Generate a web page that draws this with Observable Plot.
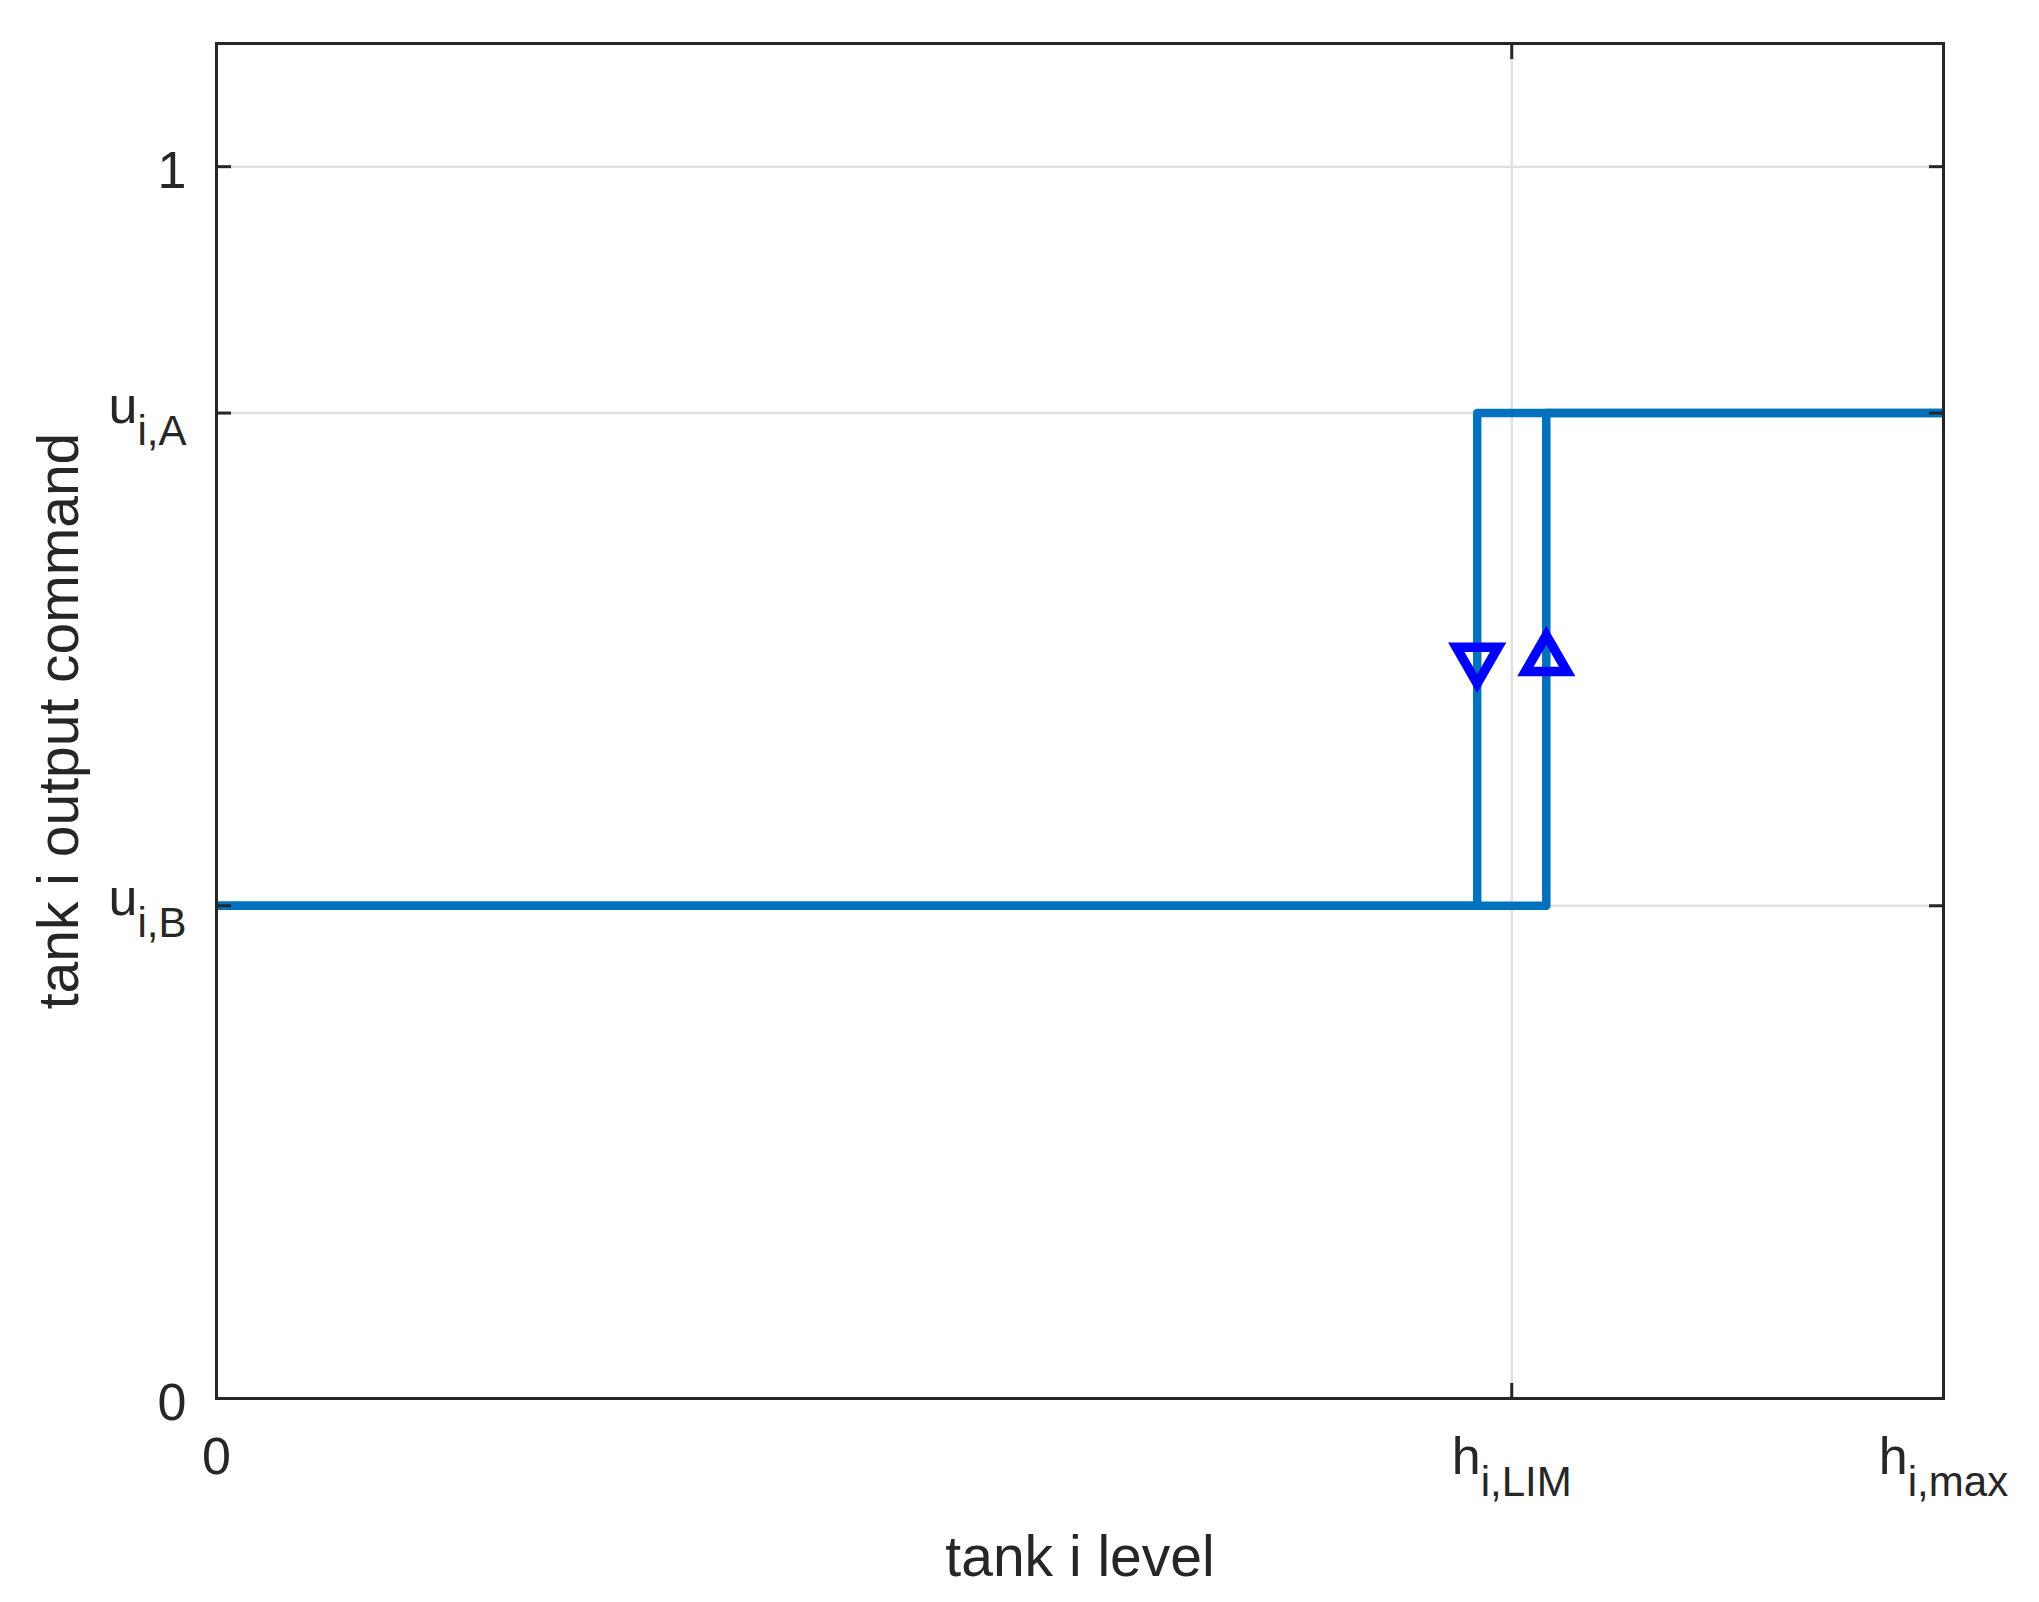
<!DOCTYPE html>
<html><head><meta charset="utf-8">
<script src="https://cdn.jsdelivr.net/npm/d3@7"></script>
<script src="https://cdn.jsdelivr.net/npm/@observablehq/plot@0.6"></script>
<style>html,body{margin:0;padding:0;background:#fff;}</style>
</head><body><div id="chart"></div>
<script>
// ---- data ----
const xTicks = [0, 0.75, 1];
const xTickLabels = ["0", "h_{i,LIM}", "h_{i,max}"];
const yTicks = [0, 0.4, 0.8, 1];
const yTickLabels = ["0", "u_{i,B}", "u_{i,A}", "1"];
const xDomain = [0, 1];
const yDomain = [0, 1.1];
// rising branch (level increasing) and falling branch of the hysteresis loop
const riseX = [0, 0.77, 0.77, 1];
const riseY = [0.4, 0.4, 0.8, 0.8];
const fallX = [1, 0.73, 0.73, 0];
const fallY = [0.8, 0.8, 0.4, 0.4];
// direction markers
const markerX = [0.73, 0.77];
const markerY = [0.6, 0.6];
const markerDir = ["down", "up"];
const xLabel = "tank i level";
const yLabel = "tank i output command";

// ---- tables for the library ----
const lineData = [
  ...riseX.map((x, i) => ({x, y: riseY[i], branch: "rise"})),
  ...fallX.map((x, i) => ({x, y: fallY[i], branch: "fall"}))
];
const markers = markerX.map((x, i) => ({x, y: markerY[i], dir: markerDir[i]}));
const dark = "#262626";

const plot = Plot.plot({
  width: 2039,
  height: 1602,
  marginLeft: 216,
  marginRight: 96,
  marginTop: 43,
  marginBottom: 204,
  style: {fontFamily: "'Liberation Sans', Arial, sans-serif", fontSize: "52px", color: dark, background: "#fff"},
  x: {domain: xDomain, label: null},
  y: {domain: yDomain, label: null},
  marks: [
    Plot.gridY(yTicks, {stroke: "#e1e1e1", strokeOpacity: 1, strokeWidth: 2.5}),
    Plot.gridX([xTicks[1]], {stroke: "#e1e1e1", strokeOpacity: 1, strokeWidth: 2.5}),
    Plot.line(lineData, {x: "x", y: "y", z: "branch", stroke: "#0072BD", strokeWidth: 8.5, strokeLinejoin: "round", strokeLinecap: "butt"}),
    Plot.dot(markers, {x: "x", y: "y", symbol: "triangle", r: 15.5, rotate: d => d.dir === "down" ? 180 : 0, stroke: "#0000ff", strokeWidth: 9.5, fill: "none"}),
    Plot.frame({stroke: dark, strokeWidth: 3}),
    // inward ticks (box on)
    Plot.axisX(xTicks, {anchor: "bottom", tickSize: 15, dy: -15, tickFormat: () => "", stroke: dark, strokeWidth: 3, label: null}),
    Plot.axisX(xTicks, {anchor: "top", tickSize: 15, dy: 15, tickFormat: () => "", stroke: dark, strokeWidth: 3, label: null}),
    Plot.axisY(yTicks, {anchor: "left", tickSize: 15, dx: 15, tickFormat: () => "", stroke: dark, strokeWidth: 3, label: null}),
    Plot.axisY(yTicks, {anchor: "right", tickSize: 15, dx: -15, tickFormat: () => "", stroke: dark, strokeWidth: 3, label: null}),
    // tick labels
    Plot.axisX(xTicks, {anchor: "bottom", tickSize: 0, tickPadding: 39, tickFormat: d => xTickLabels[xTicks.indexOf(d)], fontSize: 52, label: null}),
    Plot.axisY(yTicks, {anchor: "left", tickSize: 0, tickPadding: 30, dy: 5, tickFormat: d => yTickLabels[yTicks.indexOf(d)], fontSize: 52, label: null}),
    // axis titles
    Plot.text([xLabel], {frameAnchor: "bottom", dy: 177, lineAnchor: "bottom", textAnchor: "middle", fontSize: 57, text: d => d, fill: dark}),
    Plot.text([yLabel], {frameAnchor: "left", rotate: -90, dx: -139, lineAnchor: "bottom", textAnchor: "middle", fontSize: 57, text: d => d, fill: dark})
  ]
});

// turn "a_{b}" tick labels into base + subscript tspans
d3.select(plot).selectAll("text").each(function () {
  const t = this.textContent;
  const m = /^(.*)_\{(.*)\}$/.exec(t);
  if (!m) return;
  const g = this.closest("g[aria-label]");
  const isY = g && (g.getAttribute("aria-label") || "").startsWith("y-axis");
  this.textContent = "";
  const sel = d3.select(this);
  sel.append("tspan").attr("dy", isY ? -12 : 0).text(m[1]);
  sel.append("tspan").attr("dy", 22).attr("font-size", 42).text(m[2]);
});

document.getElementById("chart").appendChild(plot);
</script>
</body></html>
